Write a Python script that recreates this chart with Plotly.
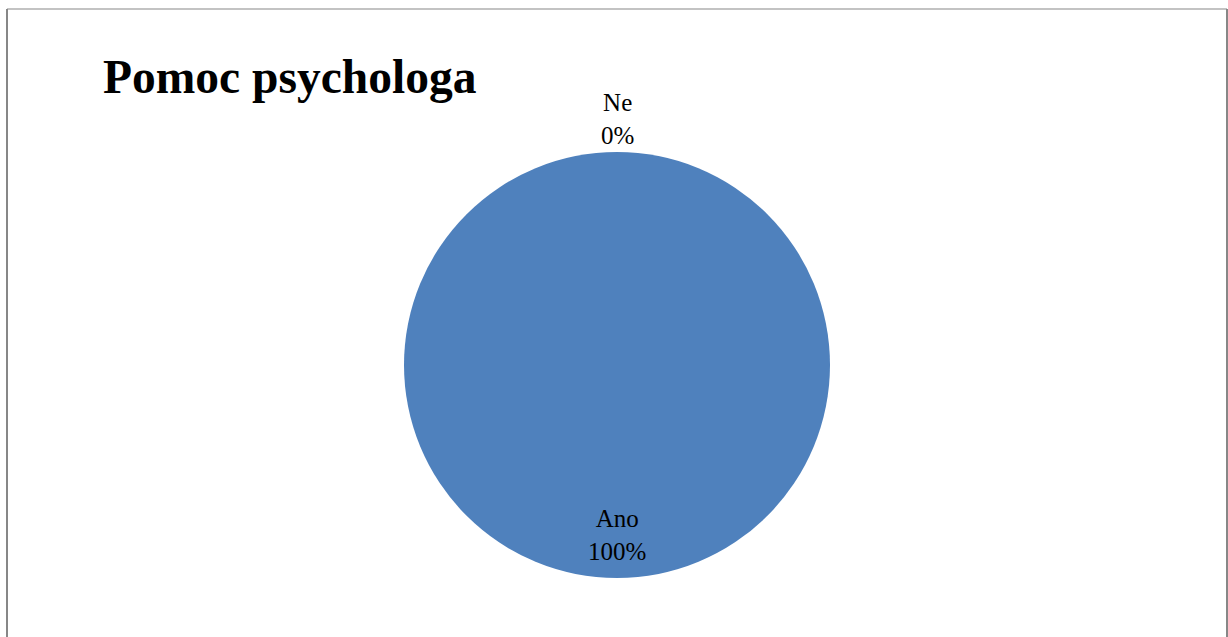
import plotly.graph_objects as go

# Survey answers: share of respondents
labels = ["Ano", "Ne"]
values = [100, 0]

title_text = "Pomoc psychologa"
pie_color = "#4F81BD"

W, H = 1228, 637
total = sum(values)
pcts = [round(v / total * 100) for v in values]

fig = go.Figure(
    go.Pie(
        labels=labels,
        values=values,
        sort=False,
        direction="clockwise",
        rotation=0,
        marker=dict(colors=[pie_color, "#C0504D"], line=dict(width=0)),
        textinfo="none",
        hoverinfo="label+percent",
        showlegend=False,
        domain=dict(x=[404 / W, 830 / W], y=[1 - 578 / H, 1 - 152 / H]),
    )
)

serif = "Liberation Serif, Times New Roman, serif"

# data labels: "Ano" sits inside at the bottom, "Ne" outside at the top
label_pos = {"Ano": 535 / H, "Ne": 119 / H}
for lab, p in zip(labels, pcts):
    fig.add_annotation(
        x=617 / W, y=1 - label_pos[lab], xref="paper", yref="paper",
        text=f"{lab}<br>{p}%", showarrow=False,
        font=dict(family=serif, size=25, color="#000000"),
        xanchor="center", yanchor="middle", align="center",
    )

fig.add_annotation(
    x=101 / W, y=1 - 77 / H, xref="paper", yref="paper",
    text=f"<b>{title_text}</b>", showarrow=False,
    font=dict(family=serif, size=47.5, color="#000000"),
    xanchor="left", yanchor="middle",
)

# chart-area frame (bottom edge runs past the page)
frame = "#878787"
fig.add_shape(type="line", xref="paper", yref="paper",
              x0=7 / W, x1=7 / W, y0=-0.05, y1=1 - 9 / H,
              line=dict(color=frame, width=2))
fig.add_shape(type="line", xref="paper", yref="paper",
              x0=7 / W, x1=1227 / W, y0=1 - 9 / H, y1=1 - 9 / H,
              line=dict(color=frame, width=1))
fig.add_shape(type="line", xref="paper", yref="paper",
              x0=1227 / W, x1=1227 / W, y0=-0.05, y1=1 - 9 / H,
              line=dict(color=frame, width=2))

fig.update_layout(
    width=W, height=H,
    margin=dict(l=0, r=0, t=0, b=0),
    paper_bgcolor="white", plot_bgcolor="white",
)

fig.write_html("out.html")
